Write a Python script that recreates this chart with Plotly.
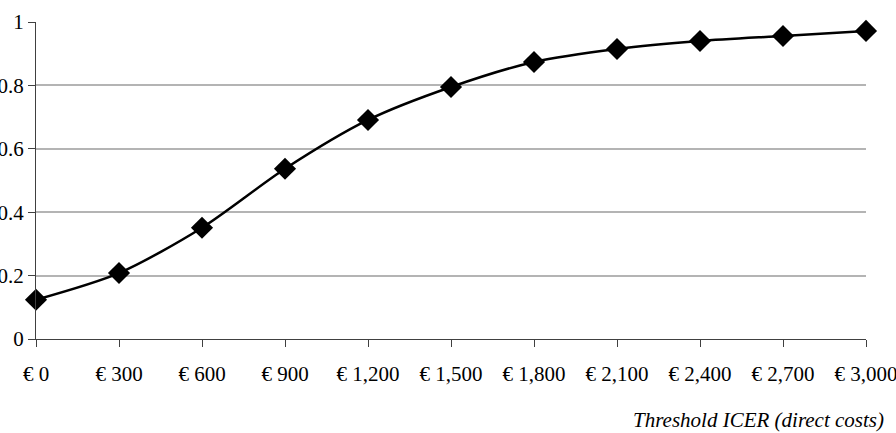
import plotly.graph_objects as go

thresholds = [0, 300, 600, 900, 1200, 1500, 1800, 2100, 2400, 2700, 3000]
probability = [0.124, 0.208, 0.351, 0.537, 0.691, 0.795, 0.874, 0.915, 0.940, 0.956, 0.972]
x_tick_labels = ["€ 0", "€ 300", "€ 600", "€ 900", "€ 1,200", "€ 1,500", "€ 1,800",
                 "€ 2,100", "€ 2,400", "€ 2,700", "€ 3,000"]
y_tick_vals = [0, 0.2, 0.4, 0.6, 0.8, 1]
y_tick_labels = ["0", "0.2", "0.4", "0.6", "0.8", "1"]
x_title = "Threshold ICER (direct costs)"

FONT = "Liberation Serif"
FS = 21

fig = go.Figure()
fig.add_trace(go.Scatter(
    x=thresholds, y=probability,
    mode="lines+markers",
    line=dict(color="black", width=2.5, shape="spline", smoothing=0.8),
    marker=dict(symbol="diamond", size=17, color="black"),
    cliponaxis=False,
    showlegend=False,
))

fig.update_layout(
    width=896, height=433,
    margin=dict(l=36, r=30, t=22, b=93.5, autoexpand=False),
    paper_bgcolor="white", plot_bgcolor="white",
    font=dict(family=FONT, size=FS, color="black"),
    xaxis=dict(
        range=[0, 3000], tickvals=thresholds, ticktext=x_tick_labels,
        showgrid=False, zeroline=False, automargin=False,
        showline=True, linecolor="#404040", linewidth=1,
        ticks="outside", ticklen=7, tickcolor="#404040", tickwidth=1,
        ticklabelstandoff=9, ticklabeloverflow="allow",
        tickfont=dict(family=FONT, size=FS, color="black"),
    ),
    yaxis=dict(
        range=[0, 1], tickvals=y_tick_vals, ticktext=y_tick_labels,
        showgrid=True, gridcolor="#b4b4b4", gridwidth=2,
        zeroline=False, automargin=False,
        showline=True, linecolor="#404040", linewidth=1,
        ticks="outside", ticklen=7, tickcolor="#404040", tickwidth=1,
        ticklabeloverflow="allow",
        tickfont=dict(family=FONT, size=FS, color="black"),
    ),
    annotations=[dict(
        text=x_title, xref="paper", yref="paper",
        x=(886 - 36) / 830, y=(339.5 - 421) / 317.5,
        xanchor="right", yanchor="middle", showarrow=False,
        font=dict(family=FONT, size=FS, color="black", style="italic"),
    )],
)

fig.write_html("out.html", config={"displayModeBar": False},
               post_script="document.body.style.margin='0';")
